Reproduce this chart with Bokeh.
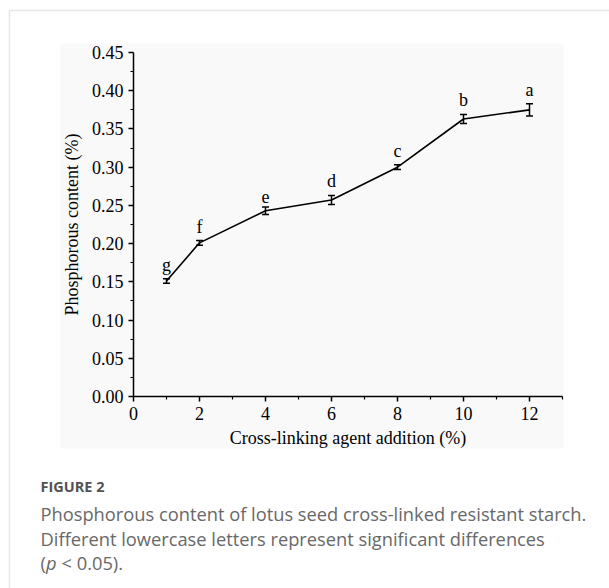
from bokeh.plotting import figure
from bokeh.models import (ColumnDataSource, Whisker, TeeHead, LabelSet, Label,
                          BoxAnnotation, FixedTicker, NumeralTickFormatter, Range1d)
from bokeh.core.properties import value
from bokeh.embed import file_html
from bokeh.resources import INLINE

# ---- data ----
addition = [1, 2, 4, 6, 8, 10, 12]
phosphorus = [0.151, 0.201, 0.243, 0.257, 0.300, 0.363, 0.375]
error = [0.003, 0.003, 0.005, 0.006, 0.003, 0.006, 0.008]
letters = ["g", "f", "e", "d", "c", "b", "a"]
x_ticks = [0, 2, 4, 6, 8, 10, 12]
x_minor = [1, 3, 5, 7, 9, 11, 13]
y_ticks = [0.00, 0.05, 0.10, 0.15, 0.20, 0.25, 0.30, 0.35, 0.40, 0.45]
y_minor = [0.025, 0.075, 0.125, 0.175, 0.225, 0.275, 0.325, 0.375, 0.425]
x_axis_max = 13
y_axis_max = 0.45

caption_title = "FIGURE 2"
caption_line1 = "Phosphorous content of lotus seed cross-linked resistant starch."
caption_line2 = "Different lowercase letters represent significant differences"
caption_line3 = ["(", "p", "< 0.05)."]

# ---- layout (pixels) ----
W, H = 609, 588
PX0, PX1 = 133, 562      # pixel positions of x = 0 and x = 13
PY0, PY1 = 396, 52       # pixel positions of y = 0 and y = 0.45
SERIF = "Liberation Serif"
SANS = "Open Sans"

xs = (PX1 - PX0) / x_axis_max
ys = (PY0 - PY1) / y_axis_max
x_range = Range1d(-PX0 / xs, (W - PX0) / xs)
y_range = Range1d(-(H - PY0) / ys, PY0 / ys)

p = figure(width=W, height=H, x_range=x_range, y_range=y_range,
           output_backend="svg", toolbar_location=None,
           min_border_left=0, min_border_right=0, min_border_top=0, min_border_bottom=0)
p.background_fill_color = "white"
p.border_fill_color = "white"
p.outline_line_color = None
p.xgrid.visible = False
p.ygrid.visible = False

def sy(py):
    return H - py

# light panel behind the chart image
p.add_layout(BoxAnnotation(left=60, right=563, top=sy(43), bottom=sy(448),
                           left_units="screen", right_units="screen",
                           top_units="screen", bottom_units="screen",
                           fill_color="#f9f9f9", fill_alpha=1.0, line_color=None,
                           level="underlay"))
# outer frame (left and top edges visible)
p.add_layout(BoxAnnotation(left=9, right=W + 30, top=sy(10), bottom=-30,
                           left_units="screen", right_units="screen",
                           top_units="screen", bottom_units="screen",
                           fill_alpha=0, line_color="#b0b0b0", line_width=1.5,
                           level="underlay"))

xa, ya = p.xaxis[0], p.yaxis[0]
for ax in (xa, ya):
    ax.axis_line_width = 1.5
    ax.axis_line_color = "black"
    ax.major_tick_line_width = 1.5
    ax.minor_tick_line_width = 1.2
    ax.major_tick_out = 5
    ax.major_tick_in = 0
    ax.minor_tick_out = 3
    ax.minor_tick_in = 0
    ax.major_label_text_font = SERIF
    ax.major_label_text_font_size = "18px"
    ax.major_label_text_color = "black"
    ax.axis_label_text_font = SERIF
    ax.axis_label_text_font_size = "18px"
    ax.axis_label_text_font_style = "normal"
    ax.axis_label_text_color = "black"

xa.fixed_location = 0
ya.fixed_location = 0
xa.bounds = (0, x_axis_max)
ya.bounds = (0, y_axis_max)
xa.ticker = FixedTicker(ticks=x_ticks, minor_ticks=x_minor)
ya.ticker = FixedTicker(ticks=y_ticks, minor_ticks=y_minor)
ya.formatter = NumeralTickFormatter(format="0.00")
xa.axis_label = "Cross-linking agent addition (%)"
ya.axis_label = "Phosphorous content (%)"
ya.axis_label_standoff = 7
xa.axis_label_standoff = 5

src = ColumnDataSource(dict(
    x=addition, y=phosphorus,
    upper=[v + e for v, e in zip(phosphorus, error)],
    lower=[v - e for v, e in zip(phosphorus, error)],
    letters=letters,
))

p.line("x", "y", source=src, line_color="black", line_width=1.6)
p.add_layout(Whisker(base="x", upper="upper", lower="lower", source=src,
                     line_color="black", line_width=1.5,
                     upper_head=TeeHead(size=7, line_width=1.5, line_color="black"),
                     lower_head=TeeHead(size=7, line_width=1.5, line_color="black")))
p.add_layout(LabelSet(x="x", y="upper", text="letters", source=src, y_offset=4,
                      text_align="center", text_baseline="bottom",
                      text_font=value(SERIF), text_font_size="18px", text_color="black"))

# caption
p.add_layout(Label(x=40, y=sy(486), x_units="screen", y_units="screen", text=caption_title,
                   text_font=SANS, text_font_size="14.5px", text_font_style="bold",
                   text_color="#525252", text_baseline="middle"))
body = dict(x_units="screen", y_units="screen", text_font=SANS, text_font_size="18.3px",
            text_color="#686868", text_baseline="middle")
p.add_layout(Label(x=40, y=sy(513), text=caption_line1, **body))
p.add_layout(Label(x=40, y=sy(538), text=caption_line2, **body))
p.add_layout(Label(x=40, y=sy(562), text=caption_line3[0], **body))
p.add_layout(Label(x=45.5, y=sy(562), text=caption_line3[1], text_font_style="italic",
                   **body))
p.add_layout(Label(x=61, y=sy(562), text=caption_line3[2], **body))

open("out.html", "w").write(file_html(p, INLINE))
